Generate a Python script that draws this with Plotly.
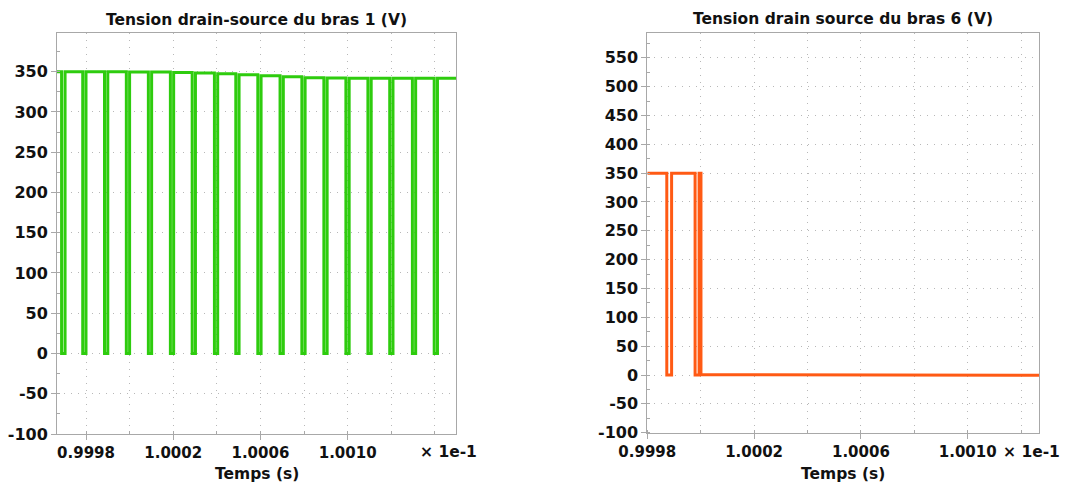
import plotly.graph_objects as go

W, H = 1068, 486

# ---------------- data (time in units of 1e-1 s) ----------------
# Left: drain-source voltage of leg 1 (square wave, falls to 0 briefly each period)
left_fall = [0.999688, 0.999785, 0.999885, 0.999985, 1.000086, 1.000187, 1.000287,
             1.000389, 1.000487, 1.000588, 1.000690, 1.000790, 1.000891, 1.000992,
             1.001093, 1.001193, 1.001297, 1.001397]
left_rise = [0.999704, 0.999800, 0.999900, 1.000000, 1.000101, 1.000202, 1.000302,
             1.000404, 1.000502, 1.000603, 1.000705, 1.000805, 1.000906, 1.001007,
             1.001108, 1.001208, 1.001312, 1.001412]
left_high = [350.0, 350.0, 350.0, 350.0, 349.6, 349.6, 348.8, 348.3, 347.5, 346.3,
             345.0, 343.8, 342.5, 342.0, 341.7, 341.7, 341.7, 341.7, 341.7]
left_low = 0.0
left_t_start, left_t_end = 0.999667, 1.001497

# Right: drain-source voltage of leg 6
right_t = [0.9998, 0.999873, 0.999873, 0.999891, 0.999891, 0.999979, 0.999979,
           0.999994, 0.999994, 1.000001, 1.000001, 1.000715, 1.000715, 1.001267]
right_v = [350, 350, 0, 0, 350, 350, 0,
           0, 350, 350, 0.8, 0.8, -0.4, -0.4]

left_title = "Tension drain-source du bras 1 (V)"
right_title = "Tension drain source du bras 6 (V)"
x_title = "Temps (s)"
x_scale_label = "× 1e-1"
left_xticks = [0.9998, 1.0002, 1.0006, 1.0010]
right_xticks = [0.9998, 1.0002, 1.0006, 1.0010]
left_yticks = [-100, -50, 0, 50, 100, 150, 200, 250, 300, 350]
right_yticks = [-100, -50, 0, 50, 100, 150, 200, 250, 300, 350, 400, 450, 500, 550]

# ---------------- build left waveform ----------------
lx, ly = [left_t_start], [left_high[0]]
for i, (f, r) in enumerate(zip(left_fall, left_rise)):
    lx += [f, f, r, r]
    ly += [left_high[i], left_low, left_low, left_high[i + 1]]
lx.append(left_t_end)
ly.append(left_high[-1])

GREEN = "#2ECC0E"
ORANGE = "#FF5A14"
FONT = "DejaVu Sans"
AXIS_COL = "#A8A8A8"
GRID_COL = "#B8B8B8"

fig = go.Figure()
fig.add_trace(go.Scatter(x=lx, y=ly, mode="lines", line=dict(color=GREEN, width=3),
                         xaxis="x", yaxis="y", showlegend=False))
fig.add_trace(go.Scatter(x=right_t, y=right_v, mode="lines", line=dict(color=ORANGE, width=3),
                         xaxis="x2", yaxis="y2", showlegend=False))

tickfont = dict(family=FONT, size=15, color="#111111", weight="bold")
ytickfont = dict(family=FONT, size=16, color="#111111", weight="bold")


def xaxis(domain, rng, tickvals, anchor):
    return dict(domain=domain, range=rng, anchor=anchor, automargin=False,
                tickmode="array", tickvals=tickvals,
                ticktext=[f"{v:.4f}" for v in tickvals],
                tickfont=tickfont, ticks="outside", ticklen=5, tickcolor=AXIS_COL,
                showline=True, linecolor=AXIS_COL, linewidth=1, mirror=True,
                showgrid=True, gridcolor=GRID_COL, griddash="1px,6px", gridwidth=1,
                minor=dict(tick0=0.9998, dtick=0.0002, showgrid=True, gridcolor=GRID_COL,
                           griddash="1px,6px", ticks="inside", ticklen=3, tickcolor=AXIS_COL),
                zeroline=False, fixedrange=True)


def yaxis(domain, rng, tickvals, anchor):
    return dict(domain=domain, range=rng, anchor=anchor, automargin=False,
                tickmode="array", tickvals=tickvals,
                ticktext=[str(v) for v in tickvals],
                tickfont=ytickfont, ticks="outside", ticklen=5, tickcolor=AXIS_COL,
                showline=True, linecolor=AXIS_COL, linewidth=1, mirror=True,
                showgrid=True, gridcolor=GRID_COL, griddash="1px,6px", gridwidth=1,
                minor=dict(dtick=25, ticks="inside", ticklen=3, tickcolor=AXIS_COL, showgrid=False),
                zeroline=False, fixedrange=True)


lxd = [57 / W, 456 / W]
rxd = [647.3 / W, 1039 / W]
lyd = [1 - 434 / H, 1 - 33 / H]
ryd = [1 - 432.7 / H, 1 - 33 / H]

fig.update_layout(
    width=W, height=H,
    margin=dict(l=0, r=0, t=0, b=0, autoexpand=False),
    paper_bgcolor="white", plot_bgcolor="white",
    xaxis=xaxis(lxd, [left_t_start, left_t_end], left_xticks, "y"),
    yaxis=yaxis(lyd, [-100, 398], left_yticks, "x"),
    xaxis2=xaxis(rxd, [0.9998, 1.001267], right_xticks, "y2"),
    yaxis2=yaxis(ryd, [-100, 593], right_yticks, "x2"),
)

titlefont = dict(family=FONT, size=15.5, color="#111111", weight="bold")
ann = [
    dict(text=left_title, x=(lxd[0] + lxd[1]) / 2, y=1 - 20 / H, xanchor="center"),
    dict(text=right_title, x=(rxd[0] + rxd[1]) / 2, y=1 - 19 / H, xanchor="center"),
    dict(text=x_title, x=(lxd[0] + lxd[1]) / 2, y=1 - 474 / H, xanchor="center"),
    dict(text=x_title, x=(rxd[0] + rxd[1]) / 2, y=1 - 474 / H, xanchor="center"),
    dict(text=x_scale_label, x=418 / W, y=1 - 452 / H, xanchor="left"),
    dict(text=x_scale_label, x=1001 / W, y=1 - 452 / H, xanchor="left"),
]
for a in ann:
    fig.add_annotation(xref="paper", yref="paper", showarrow=False,
                       yanchor="middle", font=titlefont, **a)

fig.write_html("out.html", config={"displayModeBar": False},
               post_script="document.body.style.margin='0';document.body.style.overflow='hidden';")
